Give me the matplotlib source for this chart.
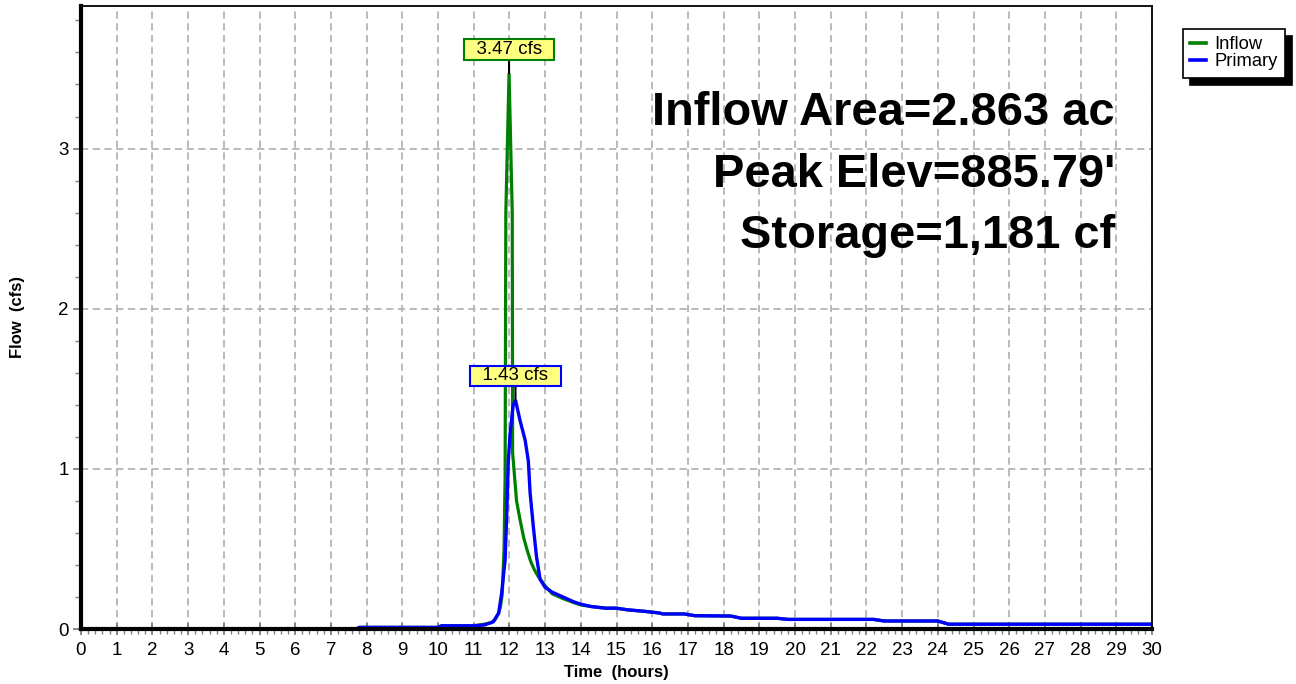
import matplotlib
matplotlib.use("Agg")
import matplotlib.pyplot as plt
from matplotlib.lines import Line2D
from matplotlib.ticker import MultipleLocator

plt.rcParams["font.family"] = ["Liberation Sans", "DejaVu Sans"]

# Hydrograph data (time in hours, flow in cfs)
inflow_t = [0.0, 7.7, 7.8, 10.0, 10.1, 11.0, 11.3, 11.5, 11.6, 11.7,
            11.75, 11.8, 11.85, 11.88, 11.90, 11.99, 12.08, 12.09, 12.2, 12.3,
            12.4, 12.5, 12.6, 12.7, 12.8, 12.9, 13.0, 13.2, 13.5, 13.8,
            14.0, 14.3, 14.7, 15.0, 15.3, 15.8, 16.2, 16.3, 16.9, 17.2,
            18.2, 18.5, 19.5, 19.8, 22.2, 22.5, 24.0, 24.3, 30.0]
inflow_q = [0.0, 0.0, 0.01, 0.01, 0.02, 0.02, 0.03, 0.04, 0.06, 0.10,
            0.14, 0.22, 0.50, 0.95, 2.60, 3.47, 2.60, 1.10, 0.80, 0.68,
            0.57, 0.49, 0.42, 0.37, 0.33, 0.30, 0.27, 0.22, 0.19, 0.165,
            0.15, 0.14, 0.13, 0.13, 0.12, 0.11, 0.10, 0.094, 0.094, 0.083,
            0.081, 0.067, 0.067, 0.06, 0.06, 0.05, 0.05, 0.03, 0.03]

primary_t = [0.0, 7.7, 7.8, 10.0, 10.1, 11.0, 11.3, 11.55, 11.7, 11.78,
             11.88, 11.92, 11.97, 12.02, 12.1, 12.17, 12.3, 12.44, 12.53, 12.58,
             12.67, 12.76, 12.86, 13.0, 13.2, 13.5, 13.8, 14.0, 14.3, 14.7,
             15.0, 15.3, 15.8, 16.2, 16.3, 16.9, 17.2, 18.2, 18.5, 19.5,
             19.8, 22.2, 22.5, 24.0, 24.3, 30.0]
primary_q = [0.0, 0.0, 0.01, 0.01, 0.02, 0.02, 0.025, 0.045, 0.10, 0.22,
             0.43, 0.68, 1.05, 1.22, 1.39, 1.43, 1.30, 1.18, 1.05, 0.85,
             0.64, 0.45, 0.31, 0.26, 0.23, 0.20, 0.17, 0.155, 0.14, 0.13,
             0.13, 0.12, 0.11, 0.10, 0.094, 0.094, 0.083, 0.081, 0.067, 0.067,
             0.06, 0.06, 0.05, 0.05, 0.03, 0.03]

series_names = ["Inflow", "Primary"]
series_colors = ["#008000", "#0000FF"]
x_ticks = list(range(0, 31))
y_ticks = [0, 1, 2, 3]
summary_lines = ["Inflow Area=2.863 ac", "Peak Elev=885.79'", "Storage=1,181 cf"]

W, H = 1296, 684
fig = plt.figure(figsize=(W / 100, H / 100), dpi=100)
L, R, T, B = 81, 1152, 6, 629
ax = fig.add_axes([L / W, 1 - B / H, (R - L) / W, (B - T) / H])

ax.set_xlim(0, 30)
ax.set_ylim(0, 3.89)

ax.plot(inflow_t, inflow_q, color=series_colors[0], lw=2.3, zorder=3,
        solid_joinstyle="miter")
ax.plot(primary_t, primary_q, color=series_colors[1], lw=2.4, zorder=3.1,
        solid_joinstyle="miter")

# grid
ax.set_xticks(x_ticks)
ax.set_yticks(y_ticks)
ax.xaxis.set_minor_locator(MultipleLocator(0.2))
ax.yaxis.set_minor_locator(MultipleLocator(0.2))
ax.grid(True, which="major", color="#b4b4b4", lw=1.3, ls=(0, (4, 2.5)))
ax.set_axisbelow(True)

ax.tick_params(axis="x", which="major", direction="inout", length=9, width=1.3,
               color="#808080", labelsize=13.5, pad=5)
ax.tick_params(axis="x", which="minor", direction="out", length=3.5, width=1.0,
               color="#808080")
ax.tick_params(axis="y", which="major", direction="out", length=6, width=1.3,
               color="#808080", labelsize=13.5, pad=3)
ax.tick_params(axis="y", which="minor", direction="out", length=4.5, width=1.0,
               color="#808080")

for side in ("left", "bottom"):
    ax.spines[side].set_linewidth(3.0)
    ax.spines[side].set_zorder(5)
for side in ("top", "right"):
    ax.spines[side].set_linewidth(1.3)
    ax.spines[side].set_zorder(5)

ax.set_xlabel("Time  (hours)", fontsize=12, fontweight="bold")
ax.xaxis.label.set_va("center")
ax.xaxis.set_label_coords(0.5, -(672 - B) / (B - T))
ax.set_ylabel("Flow  (cfs)", fontsize=12, fontweight="bold")
ax.yaxis.label.set_va("center")
ax.yaxis.set_label_coords(-(L - 18) / (R - L), 0.5)

# summary text
x_txt = (1115 - L) / (R - L)
for text, base in zip(summary_lines, [125, 187, 248]):
    ax.text(x_txt, (B - base) / (B - T), text, transform=ax.transAxes,
            ha="right", va="baseline", fontsize=33.8, fontweight="bold",
            color="black", zorder=6)

# peak labels
for ts, qs, col in [(inflow_t, inflow_q, series_colors[0]),
                    (primary_t, primary_q, series_colors[1])]:
    i = max(range(len(qs)), key=lambda k: qs[k])
    ax.annotate(f"  {qs[i]:.2f} cfs  ", xy=(ts[i], qs[i]), xytext=(0, 24),
                textcoords="offset pixels", ha="center", va="center",
                fontsize=13.5, zorder=7,
                bbox=dict(boxstyle="square,pad=0.1", fc="#FFFF80", ec=col, lw=1.5),
                arrowprops=dict(arrowstyle="-", color="black", lw=1.5,
                                shrinkA=0, shrinkB=0))

handles = [Line2D([], [], color=c, lw=2.6) for c in series_colors]
fig.legend(handles, series_names, loc="upper left",
           bbox_to_anchor=(1183 / W, 1 - 29 / H), fontsize=13.2,
           handlelength=0.85, handletextpad=0.45, borderpad=0.4,
           labelspacing=0.0, borderaxespad=0, fancybox=False, framealpha=1,
           edgecolor="black",
           shadow={"color": "black", "alpha": 1, "ox": 5, "oy": -5})
fig.legends[0].get_frame().set_linewidth(1.2)

fig.savefig("out.png", dpi=100)
